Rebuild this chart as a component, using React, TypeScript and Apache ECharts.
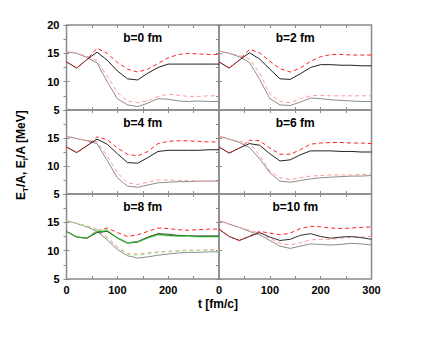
import React, { useEffect, useRef } from 'react';
import * as echarts from 'echarts';

const T = [0, 20, 40, 60, 80, 100, 120, 140, 160, 180, 200, 220, 240, 260, 280, 300];
const PANEL_TITLES = ['b=0 fm', 'b=2 fm', 'b=4 fm', 'b=6 fm', 'b=8 fm', 'b=10 fm'];
const X_TICKS = [0, 100, 200, 300];
const Y_TICKS = [5, 10, 15, 20];

// b = 0 fm
const black0 = [13.5, 12.4, 13.9, 15.2, 13.8, 11.9, 10.5, 10.3, 11.5, 12.5, 13.1, 13.1, 13.1, 13.1, 13.1, 13.1];
const red0 = [13.5, 12.4, 13.9, 15.9, 15.0, 13.4, 12.2, 11.7, 12.2, 13.2, 14.2, 14.8, 15.0, 14.9, 14.8, 14.8];
const grey0 = [15.3, 15.0, 14.3, 13.3, 10.0, 7.0, 5.9, 5.6, 6.2, 7.0, 6.9, 6.6, 6.5, 6.6, 6.5, 6.5];
const pink0 = [15.3, 15.0, 14.5, 13.7, 11.0, 8.1, 6.6, 6.3, 6.6, 7.4, 7.8, 7.6, 7.4, 7.4, 7.5, 7.5];
// b = 2 fm
const black2 = [13.5, 12.4, 13.8, 15.1, 14.0, 12.2, 10.5, 10.4, 11.4, 12.5, 13.0, 13.0, 12.9, 12.9, 12.8, 12.8];
const red2 = [13.5, 12.4, 13.8, 15.7, 15.1, 13.6, 12.3, 11.7, 12.4, 13.6, 14.4, 14.8, 14.8, 14.7, 14.7, 14.7];
const grey2 = [15.4, 15.0, 14.4, 13.4, 10.4, 7.0, 5.9, 5.8, 6.4, 7.1, 7.0, 6.8, 6.7, 6.6, 6.5, 6.5];
const pink2 = [15.4, 15.0, 14.6, 14.0, 11.5, 7.9, 6.5, 6.3, 7.0, 7.5, 7.6, 7.5, 7.5, 7.5, 7.5, 7.5];
// b = 4 fm
const black4 = [13.4, 12.4, 13.6, 14.8, 13.9, 12.2, 10.6, 10.5, 11.5, 12.6, 12.8, 12.8, 12.8, 12.8, 12.9, 12.9];
const red4 = [13.4, 12.4, 13.6, 15.2, 14.7, 13.2, 12.1, 11.8, 12.6, 14.0, 14.4, 14.5, 14.5, 14.4, 14.3, 14.3];
const grey4 = [15.3, 14.9, 14.5, 14.0, 11.0, 7.9, 6.4, 6.2, 6.6, 7.0, 7.1, 7.2, 7.2, 7.3, 7.3, 7.3];
const pink4 = [15.3, 14.9, 14.6, 14.3, 11.8, 8.8, 7.0, 6.7, 7.1, 7.5, 7.5, 7.4, 7.4, 7.3, 7.3, 7.3];
// b = 6 fm
const black6 = [13.4, 12.3, 13.2, 14.0, 13.7, 12.2, 10.9, 11.1, 12.0, 12.7, 12.7, 12.7, 12.6, 12.6, 12.5, 12.5];
const red6 = [13.4, 12.3, 13.2, 14.6, 14.5, 13.2, 12.1, 12.1, 12.9, 13.9, 14.1, 14.2, 14.2, 14.1, 14.1, 14.0];
const grey6 = [15.3, 14.8, 14.2, 13.3, 11.3, 8.8, 7.3, 7.1, 7.4, 7.7, 7.9, 8.0, 8.1, 8.2, 8.2, 8.3];
const pink6 = [15.3, 14.8, 14.4, 14.1, 11.9, 9.1, 7.9, 7.6, 7.9, 8.2, 8.3, 8.4, 8.4, 8.4, 8.5, 8.5];
// b = 8 fm
const black8 = [13.4, 12.4, 12.2, 13.2, 13.4, 12.3, 11.4, 11.6, 12.4, 13.0, 12.9, 12.7, 12.6, 12.6, 12.6, 12.6];
const red8 = [13.4, 12.4, 12.2, 13.5, 14.0, 13.2, 12.5, 12.8, 13.4, 14.0, 13.9, 13.7, 13.6, 13.7, 13.8, 13.8];
const grey8 = [15.3, 14.8, 14.2, 13.4, 11.9, 10.2, 9.1, 8.7, 8.9, 9.2, 9.4, 9.6, 9.7, 9.7, 9.8, 9.8];
const pink8 = [15.3, 14.8, 14.4, 13.8, 12.4, 10.7, 9.5, 9.4, 9.6, 9.8, 9.9, 10.0, 10.1, 10.1, 10.2, 10.2];
const green8 = [13.4, 12.4, 12.2, 13.3, 13.5, 12.2, 11.3, 11.5, 12.3, 12.9, 12.7, 12.6, 12.6, 12.5, 12.5, 12.5];
const lightGreen8 = [13.4, 12.4, 12.3, 13.6, 13.7, 12.3, 11.4, 11.5, 12.2, 12.7, 12.6, 12.5, 12.5, 12.4, 12.4, 12.4];
const lightGreenLow8 = [15.3, 14.8, 14.3, 13.6, 12.2, 10.5, 9.3, 9.2, 9.4, 9.7, 9.8, 9.9, 10.0, 10.0, 10.0, 10.0];
// b = 10 fm
const black10 = [13.8, 12.5, 11.8, 12.5, 13.2, 12.4, 11.8, 12.0, 12.7, 13.0, 12.5, 12.2, 12.4, 12.5, 12.3, 12.0];
const red10 = [13.8, 12.5, 11.8, 12.6, 13.4, 13.1, 12.8, 13.1, 13.9, 14.3, 14.2, 14.0, 13.9, 14.0, 14.1, 14.2];
const grey10 = [15.3, 14.7, 14.1, 13.4, 12.8, 11.8, 10.8, 10.4, 10.8, 11.2, 11.1, 11.0, 11.1, 11.3, 11.2, 11.0];
const pink10 = [15.3, 14.7, 14.1, 13.6, 13.1, 12.2, 11.3, 11.0, 11.4, 11.9, 12.0, 12.0, 12.2, 12.3, 12.4, 12.5];

const FONT = 'Liberation Sans, Arial, sans-serif';
const FRAME = '#8a8a8a';

type LineDef = { data: number[]; color: string; dashed: boolean };

const PANELS: LineDef[][] = [
  [
    { data: grey0, color: '#8c8c8c', dashed: false },
    { data: pink0, color: '#ff9a9a', dashed: true },
    { data: black0, color: '#202020', dashed: false },
    { data: red0, color: '#ff2020', dashed: true },
  ],
  [
    { data: grey2, color: '#8c8c8c', dashed: false },
    { data: pink2, color: '#ff9a9a', dashed: true },
    { data: black2, color: '#202020', dashed: false },
    { data: red2, color: '#ff2020', dashed: true },
  ],
  [
    { data: grey4, color: '#8c8c8c', dashed: false },
    { data: pink4, color: '#ff9a9a', dashed: true },
    { data: black4, color: '#202020', dashed: false },
    { data: red4, color: '#ff2020', dashed: true },
  ],
  [
    { data: grey6, color: '#8c8c8c', dashed: false },
    { data: pink6, color: '#ff9a9a', dashed: true },
    { data: black6, color: '#202020', dashed: false },
    { data: red6, color: '#ff2020', dashed: true },
  ],
  [
    { data: grey8, color: '#8c8c8c', dashed: false },
    { data: pink8, color: '#ff9a9a', dashed: true },
    { data: lightGreenLow8, color: '#90ee90', dashed: true },
    { data: black8, color: '#404040', dashed: false },
    { data: red8, color: '#ff2020', dashed: true },
    { data: lightGreen8, color: '#9be89b', dashed: false },
    { data: green8, color: '#1a9a1a', dashed: false },
  ],
  [
    { data: grey10, color: '#8c8c8c', dashed: false },
    { data: pink10, color: '#ff9a9a', dashed: true },
    { data: black10, color: '#303030', dashed: false },
    { data: red10, color: '#ff2020', dashed: true },
  ],
];

const COL_LEFT = [66.5, 219];
const COL_WIDTH = 152.5;
const ROW_TOP = [25, 110, 194];
const ROW_HEIGHT = [85, 84, 85];

export default function App() {
  const ref = useRef<HTMLDivElement>(null);
  useEffect(() => {
    document.body.style.margin = '0';
    const chart = echarts.init(ref.current!, null, { renderer: 'svg' });
    const grids: any[] = [];
    const xAxes: any[] = [];
    const yAxes: any[] = [];
    const series: any[] = [];
    const graphics: any[] = [];
    for (let i = 0; i < 6; i++) {
      const row = Math.floor(i / 2);
      const col = i % 2;
      const left = COL_LEFT[col];
      const top = ROW_TOP[row];
      const height = ROW_HEIGHT[row];
      grids.push({
        left, top, width: COL_WIDTH, height,
        show: true, borderColor: FRAME, borderWidth: 1.5, backgroundColor: 'transparent',
      });
      const isBottom = row === 2;
      const isLeft = col === 0;
      const tick = { show: true, inside: true, length: 3, lineStyle: { color: FRAME, width: 1 } };
      xAxes.push({
        type: 'value', gridIndex: i, position: 'bottom', min: X_TICKS[0], max: X_TICKS[3], interval: 50,
        axisLine: { show: false }, splitLine: { show: false }, axisTick: tick,
        axisLabel: {
          show: isBottom, color: '#000', fontFamily: FONT, fontWeight: 'bold', fontSize: 11, margin: 5,
          formatter: (v: number) => (v % 100 === 0 && X_TICKS.includes(v) && (col === 1 || v < 300) ? String(v) : ''),
        },
      });
      xAxes.push({
        type: 'value', gridIndex: i, position: 'top', min: X_TICKS[0], max: X_TICKS[3], interval: 50,
        axisLine: { show: false }, splitLine: { show: false }, axisTick: tick, axisLabel: { show: false },
      });
      yAxes.push({
        type: 'value', gridIndex: i, position: 'left', min: Y_TICKS[0], max: Y_TICKS[3], interval: 5,
        axisLine: { show: false }, splitLine: { show: false }, axisTick: tick,
        axisLabel: {
          show: isLeft, color: '#000', fontFamily: FONT, fontWeight: 'bold', fontSize: 11, margin: 7,
          formatter: (v: number) => (v === 20 && row > 0 ? '' : String(v)),
        },
      });
      yAxes.push({
        type: 'value', gridIndex: i, position: 'right', min: Y_TICKS[0], max: Y_TICKS[3], interval: 5,
        minorTick: { show: true, splitNumber: 2, length: 3, lineStyle: { color: FRAME } },
        axisLine: { show: false }, splitLine: { show: false }, axisTick: tick, axisLabel: { show: false },
      });
      PANELS[i].forEach((ln) => {
        series.push({
          type: 'line', xAxisIndex: 2 * i, yAxisIndex: 2 * i,
          data: T.map((t, k) => [t, ln.data[k]]),
          showSymbol: false, symbol: 'none', smooth: false,
          lineStyle: { color: ln.color, width: 1, type: ln.dashed ? [4, 3] : 'solid' },
          silent: true,
        });
      });
      graphics.push({
        type: 'text', x: left + COL_WIDTH / 2, y: top + 13,
        style: {
          text: PANEL_TITLES[i], fill: '#000', font: `bold 12px ${FONT}`,
          textAlign: 'center', textVerticalAlign: 'middle',
        },
      });
    }
    graphics.push({
      type: 'text', x: 21, y: 155, rotation: Math.PI / 2,
      style: {
        text: '{a|E}{s|T}{a|/A, E}{s|l}{a|/A [MeV]}',
        textAlign: 'center', textVerticalAlign: 'middle',
        rich: {
          a: { fontSize: 12, fontWeight: 'bold', fontFamily: FONT, fill: '#000', lineHeight: 16 },
          s: { fontSize: 8, fontWeight: 'bold', fontFamily: FONT, fill: '#000', lineHeight: 8, verticalAlign: 'bottom' },
        },
      },
    });
    graphics.push({
      type: 'text', x: 218, y: 304,
      style: {
        text: 't [fm/c]', fill: '#000', font: `bold 12px ${FONT}`,
        textAlign: 'center', textVerticalAlign: 'middle',
      },
    });
    chart.setOption({
      animation: false,
      backgroundColor: '#fff',
      grid: grids,
      xAxis: xAxes,
      yAxis: yAxes,
      series,
      graphic: graphics,
    });
    return () => chart.dispose();
  }, []);
  return <div ref={ref} style={{ width: 436, height: 337 }} />;
}
